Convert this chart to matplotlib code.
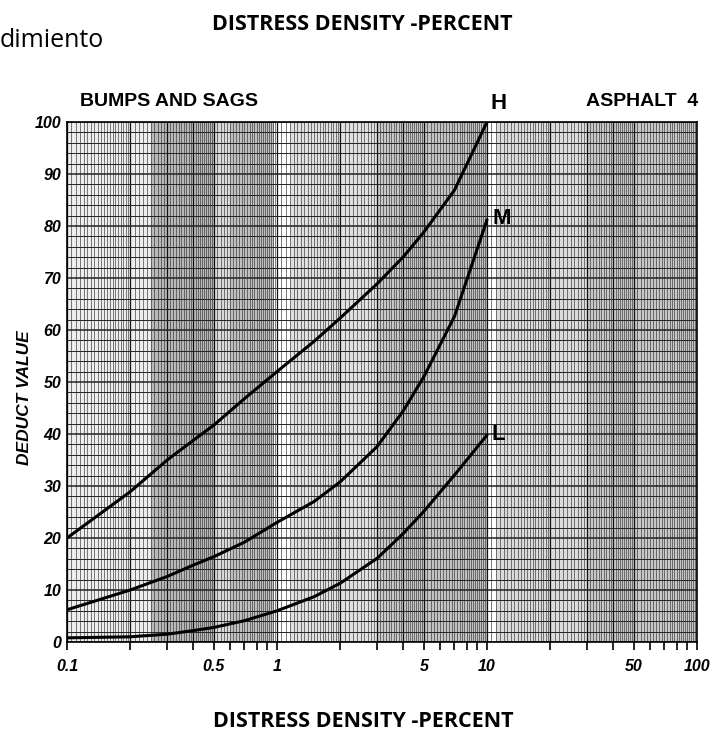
import numpy as np
import matplotlib.pyplot as plt
from matplotlib.ticker import FixedLocator, NullFormatter

# ----------------
#      DATA
# ----------------
density = [0.1, 0.2, 0.3, 0.4, 0.5, 0.7, 1, 1.5, 2, 3, 4, 5, 7, 10]
high = [20, 28.9, 35, 38.8, 41.7, 46.8, 52, 57.8, 62.3, 68.9, 74.1, 78.8, 86.9, 100]
medium = [6.2, 10, 12.6, 14.8, 16.4, 19.2, 23, 27, 30.8, 37.6, 44.5, 51, 62.6, 81.2]
low = [0.8, 1.0, 1.5, 2.2, 2.8, 4.1, 6, 8.7, 11.3, 16.1, 20.9, 25.1, 32.1, 39.8]

xticks_major = [0.1, 0.5, 1, 5, 10, 50, 100]
xtick_labels = ['0.1', '0.5', '1', '5', '10', '50', '100']
xticks_minor = [0.2, 0.3, 0.4, 0.6, 0.7, 0.8, 0.9, 2, 3, 4, 6, 7, 8, 9,
                20, 30, 40, 60, 70, 80, 90]
yticks = list(range(0, 101, 10))

# gray bands of the scanned paper (from, to, gray level)
bands = [(0.1, 0.25, 0.93), (0.25, 0.5, 0.72), (0.5, 0.6, 0.85), (0.6, 0.97, 0.75),
         (1.15, 3.0, 0.88), (3.0, 5.0, 0.78), (5.0, 10.0, 0.76),
         (11.0, 30.0, 0.86), (30.0, 100.0, 0.78)]

fig = plt.figure(figsize=(7.15, 7.38), dpi=100)
ax = fig.add_axes([67 / 715, 1 - 642 / 738, 630 / 715, 520 / 738])
ax.set_xscale('log')
ax.set_xlim(0.1, 100)
ax.set_ylim(0, 100)

for a, b, g in bands:
    ax.axvspan(a, b, color=str(g), lw=0, zorder=0)

# ----------------
#   GRAPH PAPER
# ----------------
vlines = []
for dec in [0.1, 1, 10]:
    vlines += list(np.arange(1, 2, 0.05) * dec)
    vlines += list(np.arange(2, 5, 0.1) * dec)
    vlines += list(np.arange(5, 10, 0.2) * dec)
for v in vlines:
    ax.axvline(v, color='#333333', lw=0.45, zorder=1)
for v in [0.1, 0.2, 0.3, 0.4, 0.5, 1, 2, 3, 4, 5, 10, 20, 30, 40, 50, 100]:
    ax.axvline(v, color='#111111', lw=0.9, zorder=1)
for h in range(0, 101, 2):
    ax.axhline(h, color='#222222', lw=0.7 if h % 10 else 1.1, zorder=1)

# ----------------
#     CURVES
# ----------------
for ys in [high, medium, low]:
    ax.plot(density, ys, color='black', lw=2.2, zorder=3,
            solid_capstyle='round', solid_joinstyle='round')

lab = dict(fontsize=16, fontweight='bold', family='Liberation Sans', ha='left', va='center')
ax.text(10.4, 103.5, 'H', clip_on=False, **lab)
ax.text(10.6, 81.5, 'M', clip_on=False, **lab)
ax.text(10.5, 40, 'L', clip_on=False, **lab)

# ticks
ax.xaxis.set_major_locator(FixedLocator(xticks_major))
ax.xaxis.set_minor_locator(FixedLocator(xticks_minor))
ax.xaxis.set_minor_formatter(NullFormatter())
ax.set_xticklabels(xtick_labels)
ax.set_yticks(yticks)
ax.tick_params(axis='x', which='both', direction='out', length=6, width=1.2, pad=6)
ax.tick_params(axis='y', length=0, pad=4)
for t in ax.get_xticklabels() + ax.get_yticklabels():
    t.set_fontstyle('italic')
    t.set_fontweight('bold')
    t.set_fontsize(11.5)
    t.set_family('Liberation Sans')
for s in ax.spines.values():
    s.set_linewidth(1.2)

ax.set_ylabel('DEDUCT VALUE', fontsize=12.5, fontstyle='italic', fontweight='bold',
              family='Liberation Sans', labelpad=8)
ax.yaxis.set_label_coords(-70 / 630 + 0.055, (642 - 398) / 520)

# ----------------
#      TEXTS
# ----------------
fig.text(362 / 715, 1 - 30 / 738, 'DISTRESS DENSITY -PERCENT', ha='center', va='baseline',
         fontsize=15.5, fontweight='bold', family='Open Sans')
fig.text(363 / 715, 1 - 727 / 738, 'DISTRESS DENSITY -PERCENT', ha='center', va='baseline',
         fontsize=15.5, fontweight='bold', family='Open Sans')
fig.text(0, 1 - 47 / 738, 'dimiento', ha='left', va='baseline', fontsize=18, family='Open Sans')
fig.text(80 / 715, 1 - 102 / 738, 'BUMPS AND SAGS', ha='left', va='center',
         fontsize=14, fontweight='bold', family='Liberation Sans')
fig.text(698 / 715, 1 - 102 / 738, 'ASPHALT  4', ha='right', va='center',
         fontsize=14, fontweight='bold', family='Liberation Sans')

fig.savefig('out.png', dpi=100)
